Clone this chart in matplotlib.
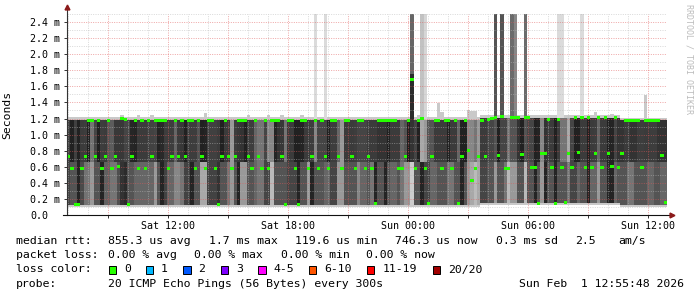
import numpy as np
import matplotlib
matplotlib.use("Agg")
import matplotlib.pyplot as plt
from matplotlib.patches import Rectangle

# 180 columns of 10 minutes, Sat 06:55:48 -> Sun 12:55:48
n_cols = 180
start_clock = (6, 55, 48)

# median rtt per column (ms)
median = [
    0.73, 0.58, 0.13, 0.13, 0.58, 0.73, 1.18, 1.18, 0.73, 1.18,
    0.58, 0.73, 1.18, 0.58, 0.73, 0.60, 1.20, 1.19, 0.13, 0.73,
    1.18, 0.58, 1.18, 0.58, 1.18, 0.73, 1.18, 1.18, 1.18, 1.18,
    0.58, 0.73, 1.18, 0.73, 1.18, 0.73, 1.18, 1.18, 0.58, 1.18,
    0.73, 0.58, 1.18, 1.18, 0.58,
    0.13, 0.73, 1.18, 0.73, 0.58, 0.73, 1.18, 1.18, 1.18, 0.73,
    0.58, 1.18, 0.73, 0.58, 1.18, 0.58, 1.18, 1.18, 1.18, 0.73,
    0.13, 1.18, 1.18, 0.58, 0.13, 1.18, 1.18, 0.58, 0.73, 1.18,
    0.58, 1.18, 0.73, 0.58, 1.18, 1.18, 0.73, 0.58, 1.18, 1.18,
    0.73, 0.58, 1.18, 1.18, 0.58,
    0.73, 0.58, 0.14, 1.18, 1.18, 1.18, 1.18, 1.18, 1.18, 0.58,
    0.58, 0.73, 1.18, 1.69, 0.58, 1.18, 1.20, 0.58, 0.14, 0.73,
    1.18, 1.18, 0.58, 1.18, 1.18, 0.58, 1.18, 0.14, 0.73, 1.18,
    0.80, 0.43, 0.58, 0.73, 1.18, 0.73, 1.19, 1.20, 1.21, 0.74,
    1.22, 0.58, 0.58, 1.21, 1.21,
    1.21, 0.75, 1.21, 1.21, 0.59, 0.59, 0.14, 0.76, 0.76, 1.19,
    0.59, 0.14, 1.19, 0.59, 0.15, 0.76, 0.59, 1.21, 0.78, 1.21,
    0.59, 1.21, 0.59, 0.76, 1.21, 0.59, 1.21, 0.76, 0.60, 1.21,
    0.59, 0.76, 1.18, 1.18, 1.18, 1.18, 1.18, 0.59, 1.18, 1.18,
    1.18, 1.18, 1.18, 0.74, 0.15,
]

# smoke shade (0 = black, 1 = white), upper and lower part of the ping spread
shade_up = [
    .24, .13, .25, .13, .23, .24, .13, .45, .27, .13, .24, .23, .33, .36, .22,
    .22, .22, .27, .27, .15, .14, .23, .23, .23, .25, .26, .27, .14, .16, .24,
    .24, .24, .40, .23, .22, .13, .24, .24, .24, .33, .13, .14, .25, .25, .25,
    .23, .13, .23, .23, .60, .24, .22, .20, .13, .24, .24, .40, .46, .46, .27,
    .53, .53, .14, .20, .22, .46, .23, .23, .13, .13, .14, .23, .23, .24, .53,
    .27, .27, .27, .13, .24, .24, .40, .60, .23, .23, .23, .24, .27, .27, .27,
    .23, .23, .23, .20, .20, .20, .13, .23, .23, .23, .40, .33, .12, .20, .27,
    .13, .66, .60, .33, .33, .23, .23, .23, .23, .13, .23, .23, .40, .13, .13,
    .53, .53, .46, .60, .23, .23, .27, .27, .33, .13, .27, .27, .46, .33, .33,
    .20, .13, .33, .27, .27, .13, .14, .53, .20, .23, .23, .13, .23, .46, .46,
    .66, .27, .13, .13, .23, .23, .13, .23, .24, .40, .23, .23, .13, .14, .27,
    .20, .20, .23, .23, .20, .20, .24, .24, .23, .23, .24, .24, .20, .20, .20,
]
shade_low = [
    .27, .33, .33, .14, .29, .45, .46, .60, .33, .33, .14, .38, .38, .46, .46,
    .31, .20, .17, .33, .33, .40, .40, .40, .40, .40, .40, .60, .33, .14, .26,
    .40, .40, .53, .53, .46, .26, .26, .14, .33, .33, .66, .66, .26, .26, .26,
    .20, .33, .33, .46, .60, .33, .14, .60, .60, .33, .33, .40, .46, .46, .27,
    .27, .73, .33, .33, .33, .33, .27, .27, .27, .14, .33, .33, .60, .14, .33,
    .33, .33, .40, .40, .27, .27, .60, .60, .33, .33, .33, .33, .53, .40, .40,
    .33, .46, .14, .33, .33, .14, .33, .40, .40, .33, .46, .60, .60, .80, .33,
    .33, .14, .27, .27, .40, .40, .33, .33, .33, .46, .46, .33, .33, .14, .33,
    .60, .66, .73, .66, .27, .27, .33, .33, .60, .33, .33, .46, .73, .60, .60,
    .33, .33, .73, .33, .33, .14, .33, .60, .14, .33, .33, .14, .33, .33, .33,
    .46, .27, .27, .40, .33, .33, .14, .40, .40, .60, .33, .33, .14, .14, .40,
    .33, .33, .33, .46, .46, .33, .33, .33, .33, .40, .40, .33, .33, .40, .40,
]

# edges of the dense smoke and of the light outer pings (ms)
core_top = [1.18] * 124 + [1.21] * 42 + [1.18] * 14
core_bot = [0.12] * 124 + [0.145] * 42 + [0.12] * 14
fringe_top = [1.22] * 124 + [1.24] * 42 + [1.21] * 14
fringe_bot = [0.095] * 124 + [0.12] * 42 + [0.10] * 14
fringe_bumps = {16: 1.25, 21: 1.25, 25: 1.24, 41: 1.27, 54: 1.25, 60: 1.24,
                64: 1.25, 70: 1.24, 105: 1.24, 111: 1.39, 112: 1.28, 120: 1.30,
                121: 1.29, 122: 1.29, 148: 1.28, 158: 1.28, 163: 1.26, 173: 1.49}
for c, v in fringe_bumps.items():
    fringe_top[c] = v

# columns with pings above the top of the graph
spike_cols = [74, 77, 103, 106, 107, 128, 130, 133, 134, 137, 147, 148, 154]
spike_shade = [.86, .86, .40, .76, .84, .33, .33, .42, .53, .42, .86, .86, .86]
spike_top = [2.6] * 13
spike_dark_top = [0, 0, 1.75, 0, 0, 0, 0, 0, 0, 0, 0, 0, 0]

y_ticks = [0.0, 0.2, 0.4, 0.6, 0.8, 1.0, 1.2, 1.4, 1.6, 1.8, 2.0, 2.2, 2.4]

stats_rtt = ["855.3 us avg", "1.7 ms max", "119.6 us min", "746.3 us now", "0.3 ms sd", "2.5", "am/s"]
stats_loss = ["0.00 % avg", "0.00 % max", "0.00 % min", "0.00 % now"]
loss_labels = ["0", "1", "2", "3", "4-5", "6-10", "11-19", "20/20"]
loss_colors = ["#26ff00", "#00b8ff", "#0059ff", "#7e00ff", "#ff00ff", "#ff5500", "#ff0000", "#a10000"]
probe_text = "20 ICMP Echo Pings (56 Bytes) every 300s"
stamp_text = "Sun Feb  1 12:55:48 2026"

MONO = "DejaVu Sans Mono"
W, H = 697, 297


def fx(px):
    return px / W


def fy(py):
    return 1 - py / H


fig = plt.figure(figsize=(W / 100, H / 100), dpi=100)
fig.patch.set_facecolor("white")
ax = fig.add_axes([fx(67), fy(215), 600 / W, 201 / H])
ax.set_xlim(0, 30)
ax.set_ylim(0, 2.5)
ax.set_facecolor("white")

x = np.arange(n_cols) / 6.0
w = 1 / 6.0
split = 0.66
core_top_a = np.array(core_top)
core_bot_a = np.array(core_bot)

ax.bar(x, np.array(fringe_top) - np.array(fringe_bot), w, bottom=fringe_bot,
       align="edge", color="#c9c9c9", linewidth=0, zorder=1)
for c, g, t, d in zip(spike_cols, spike_shade, spike_top, spike_dark_top):
    ax.bar(x[c], t - core_top[c], w, bottom=core_top[c], align="edge",
           color=str(g), linewidth=0, zorder=1.2)
    if d:
        ax.bar(x[c], d - core_top[c], w, bottom=core_top[c], align="edge",
               color="0.17", linewidth=0, zorder=1.3)
ax.bar(x, split - core_bot_a, w, bottom=core_bot_a, align="edge",
       color=[str(g) for g in shade_low], linewidth=0, zorder=1.5)
ax.bar(x, core_top_a - split, w, bottom=split, align="edge",
       color=[str(g) for g in shade_up], linewidth=0, zorder=1.5)

# median rtt dashes
ax.bar(x, 0.036, w, bottom=np.array(median) - 0.018, align="edge",
       color="#26ff00", linewidth=0, zorder=5)

# time axis: hourly minor grid, 3-hourly major grid, labels every 6 hours
first = (3600 * 7 - (start_clock[0] * 3600 + start_clock[1] * 60 + start_clock[2])) / 3600
hours = [first + k for k in range(30)]
clock = [(7 + k) % 24 for k in range(30)]
major = [h for h, c in zip(hours, clock) if c % 3 == 0]
major_lbl = []
for h, c, k in zip(hours, clock, range(30)):
    if c % 3 == 0:
        day = "Sat" if 7 + k < 24 else "Sun"
        major_lbl.append(f"{day} {c:02d}:00" if c % 6 == 0 else "")
ax.set_xticks(major, major_lbl, family=MONO, fontsize=7.2)
ax.set_xticks(hours, minor=True)
ax.set_yticks(y_ticks, ["0.0"] + [f"{v:.1f} m" for v in y_ticks[1:]],
              family=MONO, fontsize=7.2, ha="left")
ax.set_yticks(np.arange(1, 26) / 10, minor=True)

ax.set_axisbelow(False)
ax.grid(which="minor", color="#b8b8b8", alpha=0.55, linestyle=(0, (1, 1.4)), linewidth=0.7)
ax.grid(which="major", color="#e05a5a", alpha=0.55, linestyle=(0, (1, 1.4)), linewidth=0.7)

ax.tick_params(axis="x", which="major", length=2, width=0.7, color="#333333", pad=2.5)
ax.tick_params(axis="y", which="major", length=2, width=0.7, color="#333333", pad=24.6)
ax.tick_params(which="minor", length=0)
for s in ax.spines.values():
    s.set_visible(False)

# axis lines with arrows
ax.plot([0, 0], [0, 1.035], transform=ax.transAxes, color="#333333", lw=0.8, clip_on=False, zorder=6)
ax.plot([-0.007, 1.008], [0, 0], transform=ax.transAxes, color="#111111", lw=0.8, clip_on=False, zorder=6)
ax.plot([0], [1.035], transform=ax.transAxes, marker="^", ms=3.5, color="#8b1a1a", clip_on=False, zorder=7)
ax.plot([1.008], [0], transform=ax.transAxes, marker=">", ms=3.5, color="#8b1a1a", clip_on=False, zorder=7)

ax.set_ylabel("Seconds", family=MONO, fontsize=8.2)
ax.yaxis.set_label_coords(-55 / 600, 0.5)

fig.text(fx(689), fy(4), "RRDTOOL / TOBI OETIKER", rotation=-90, ha="center", va="top",
         family=MONO, fontsize=6, color="#bcbcbc")

# legend
LF = 8.25
fig.text(fx(16), fy(241), "median rtt:", family=MONO, fontsize=LF, va="center")
for s, px in zip(stats_rtt, [108.5, 208.7, 295, 395.4, 496, 575.5, 618]):
    fig.text(fx(px), fy(241), s, family=MONO, fontsize=LF, va="center")
fig.text(fx(16), fy(255.5), "packet loss:", family=MONO, fontsize=LF, va="center")
for s, px in zip(stats_loss, [108.5, 194.4, 280.6, 366.4]):
    fig.text(fx(px), fy(255.5), s, family=MONO, fontsize=LF, va="center")
fig.text(fx(16), fy(269.5), "loss color:", family=MONO, fontsize=LF, va="center")
box_x = [108.5, 145.5, 183, 220.5, 258, 308.5, 367, 432.5]
for lbl, col, bx in zip(loss_labels, loss_colors, box_x):
    fig.patches.append(Rectangle((fx(bx), fy(273.5)), 7.5 / W, 7.5 / H, transform=fig.transFigure,
                                 facecolor=col, edgecolor="black", linewidth=0.7))
    fig.text(fx(bx + 15.5), fy(269.5), lbl, family=MONO, fontsize=LF, va="center")
fig.text(fx(16), fy(284), "probe:", family=MONO, fontsize=LF, va="center")
fig.text(fx(108.5), fy(284), probe_text, family=MONO, fontsize=LF, va="center")
fig.text(fx(684), fy(284), stamp_text, family=MONO, fontsize=LF, va="center", ha="right")

fig.savefig("out.png", dpi=100, facecolor="white")
